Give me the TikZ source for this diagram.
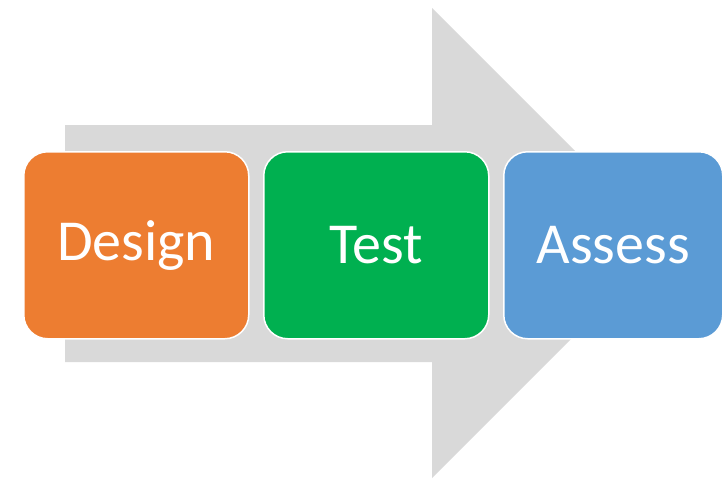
\documentclass[tikz,border=0pt]{standalone}
\usepackage{fontspec}
\setmainfont{Carlito}
\definecolor{arrowgray}{HTML}{D9D9D9}
\definecolor{dorange}{HTML}{ED7D31}
\definecolor{tgreen}{HTML}{00B050}
\definecolor{ablue}{HTML}{5B9BD5}
\tikzset{
  stagebox/.style={draw=white, line width=1.5pt, rounded corners=24pt, text=white,
    minimum width=225pt, minimum height=187pt, inner sep=0pt,
    font=\fontsize{58}{64}\selectfont, anchor=north west},
}
\begin{document}
\begin{tikzpicture}[x=1pt,y=-1pt]
\useasboundingbox (0,0) rectangle (723,480);
\fill[arrowgray] (65,125) -- (432,125) -- (432,8) -- (667,243) -- (432,478) -- (432,362) -- (65,362) -- cycle;
\node[stagebox, fill=dorange] (design) at (23,151) {Design};
\node[stagebox, fill=tgreen] (test) at (263,151) {Test};
\node[stagebox, fill=ablue, minimum width=219pt] (assess) at (503,151) {Assess};
\end{tikzpicture}
\end{document}
